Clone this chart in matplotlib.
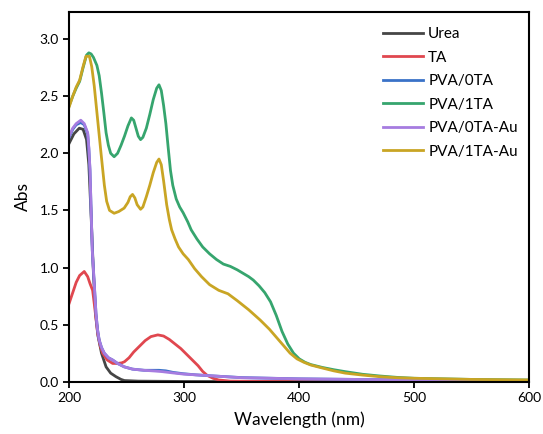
import matplotlib.pyplot as plt

# golflengtes (nm) en absorbantie per monster
wl_urea = [200, 204, 208.7, 212, 215, 217, 219, 221, 223, 225, 228, 232, 236, 240.6, 245, 248, 260, 300, 400, 600]
abs_urea = [2.09, 2.17, 2.22, 2.21, 2.12, 1.9, 1.45, 0.95, 0.58, 0.40, 0.25, 0.13, 0.075, 0.044, 0.02, 0.01, 0.005, 0.002, 0.0, 0.0]

wl_ta = [200, 203, 206, 209, 213, 216, 218, 220.3, 222, 224.7, 227, 229, 233, 237.7, 242, 245.6, 248, 252, 256, 261, 266, 271, 277, 282, 287, 292, 297, 302, 307, 312, 316, 320, 325, 330, 340, 400, 600]
abs_ta = [0.69, 0.78, 0.87, 0.93, 0.965, 0.92, 0.86, 0.80, 0.66, 0.42, 0.31, 0.25, 0.19, 0.16, 0.16, 0.165, 0.175, 0.21, 0.26, 0.31, 0.36, 0.395, 0.41, 0.40, 0.37, 0.33, 0.29, 0.24, 0.19, 0.14, 0.09, 0.055, 0.03, 0.015, 0.005, 0.0, 0.0]

wl_pva0 = [200, 203, 206, 210, 213, 216, 217, 218, 219, 220, 221.7, 223.2, 224.5, 226, 228, 230.4, 234, 237.7, 242, 247.8, 255, 265, 272, 278, 284, 290, 299, 310, 326, 350, 400, 450, 500, 600]
abs_pva0 = [2.14, 2.21, 2.25, 2.27, 2.25, 2.17, 2.04, 1.85, 1.50, 1.15, 0.86, 0.60, 0.46, 0.365, 0.30, 0.25, 0.21, 0.19, 0.16, 0.13, 0.11, 0.10, 0.10, 0.10, 0.095, 0.082, 0.07, 0.06, 0.05, 0.036, 0.025, 0.02, 0.015, 0.01]

wl_pva1 = [200, 203, 206, 209, 212, 215, 217, 219, 221, 224, 226, 228, 230, 232, 234, 236, 239, 242, 245, 248, 251, 254, 256, 258, 260, 262, 264, 267, 270, 273, 276, 278, 280, 282, 284, 286, 288, 290, 293, 296, 299, 303, 306, 311, 316, 322, 328, 334, 340, 346, 351, 356, 360, 365, 370, 375, 380, 385, 390, 395, 400, 405, 410, 420, 430, 440, 455, 470, 485, 500, 550, 600]
abs_pva1 = [2.42, 2.50, 2.57, 2.63, 2.75, 2.86, 2.88, 2.87, 2.84, 2.77, 2.68, 2.53, 2.36, 2.18, 2.07, 2.00, 1.97, 2.00, 2.07, 2.15, 2.24, 2.31, 2.29, 2.22, 2.15, 2.12, 2.14, 2.22, 2.34, 2.47, 2.57, 2.60, 2.55, 2.42, 2.26, 2.05, 1.85, 1.72, 1.60, 1.53, 1.48, 1.40, 1.33, 1.25, 1.18, 1.12, 1.07, 1.03, 1.01, 0.98, 0.95, 0.92, 0.89, 0.84, 0.78, 0.70, 0.58, 0.44, 0.33, 0.25, 0.20, 0.17, 0.15, 0.125, 0.105, 0.088, 0.065, 0.05, 0.038, 0.03, 0.02, 0.015]

wl_pva0au = [200, 203, 206, 210, 213, 216, 217, 218, 219, 220, 221.7, 223.2, 224.5, 226, 228, 230.4, 234, 237.7, 242, 247.8, 255, 265, 275, 281, 290, 299, 310, 326, 350, 400, 450, 500, 600]
abs_pva0au = [2.15, 2.22, 2.26, 2.29, 2.26, 2.18, 2.05, 1.86, 1.50, 1.15, 0.86, 0.60, 0.46, 0.365, 0.30, 0.25, 0.21, 0.19, 0.16, 0.13, 0.11, 0.10, 0.093, 0.088, 0.077, 0.067, 0.06, 0.05, 0.035, 0.025, 0.02, 0.015, 0.01]

wl_pva1au = [200, 203, 206, 209, 212, 214.5, 217.5, 219.5, 221.7, 224.7, 227.6, 230.5, 232.5, 235, 239, 243, 247.7, 251, 253, 255, 257, 259, 262, 264, 267, 270, 273, 276, 278, 280, 282, 284.7, 287, 289, 292, 295, 299, 303.5, 309, 315, 322, 330, 338, 346, 356, 366, 374, 380, 386, 392, 398, 404, 410, 420, 430, 440, 455, 470, 485, 500, 550, 600]
abs_pva1au = [2.41, 2.50, 2.58, 2.64, 2.76, 2.85, 2.85, 2.76, 2.59, 2.29, 2.00, 1.72, 1.58, 1.50, 1.475, 1.49, 1.52, 1.57, 1.62, 1.64, 1.61, 1.55, 1.51, 1.53, 1.62, 1.72, 1.83, 1.92, 1.95, 1.90, 1.76, 1.55, 1.42, 1.33, 1.25, 1.18, 1.12, 1.07, 0.99, 0.92, 0.85, 0.80, 0.77, 0.71, 0.63, 0.54, 0.46, 0.39, 0.32, 0.25, 0.20, 0.17, 0.146, 0.12, 0.095, 0.075, 0.058, 0.044, 0.035, 0.03, 0.02, 0.015]

plt.rcParams['font.family'] = ['Lato', 'DejaVu Sans']

fig = plt.figure(figsize=(5.43, 4.34), dpi=100)
ax = fig.add_axes([0.1276, 0.1205, 0.8471, 0.8525])

lw = 2.0
ax.plot(wl_urea, abs_urea, color='#454545', lw=lw, label='Urea')
ax.plot(wl_ta, abs_ta, color='#e0474f', lw=lw, label='TA')
ax.plot(wl_pva0, abs_pva0, color='#3a72c8', lw=lw, label='PVA/0TA')
ax.plot(wl_pva1, abs_pva1, color='#36a56e', lw=lw, label='PVA/1TA')
ax.plot(wl_pva0au, abs_pva0au, color='#a67ce0', lw=lw, label='PVA/0TA-Au')
ax.plot(wl_pva1au, abs_pva1au, color='#c9a524', lw=lw, label='PVA/1TA-Au')

ax.set_xlim(200, 600)
ax.set_ylim(0, 3.24)
ax.set_xticks([200, 300, 400, 500, 600])
ax.set_yticks([0.0, 0.5, 1.0, 1.5, 2.0, 2.5, 3.0])
ax.set_yticklabels(['0.0', '0.5', '1.0', '1.5', '2.0', '2.5', '3.0'])
ax.tick_params(direction='out', length=4, width=1.3, labelsize=10)
for s in ax.spines.values():
    s.set_linewidth(1.5)

ax.set_xlabel('Wavelength (nm)', fontsize=12.5, labelpad=5)
ax.set_ylabel('Abs', fontsize=12.5, labelpad=6)

ax.legend(loc='upper left', frameon=False, fontsize=11, handlelength=2.57,
          labelspacing=0.62, handletextpad=0.37, borderpad=0, borderaxespad=0,
          bbox_to_anchor=(0.6826, 0.958))

plt.savefig('out.png', dpi=100)
